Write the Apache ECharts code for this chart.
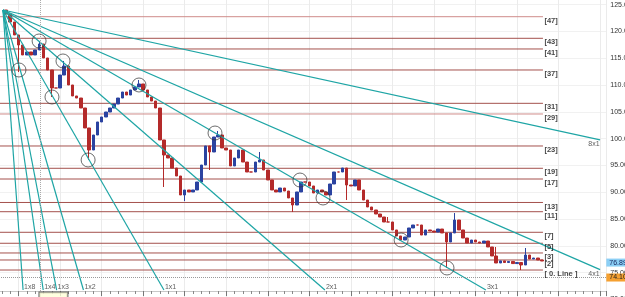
<!DOCTYPE html>
<html><head><meta charset="utf-8">
<script src="https://cdn.jsdelivr.net/npm/echarts@6/dist/echarts.min.js"></script>
<style>html,body{margin:0;padding:0;background:#fff}#c{width:625px;height:297px}</style>
</head><body><div id="c"></div>
<script>
// ---- price bars (trading-day index, closing price) ----
const days = [14,16,18,20,22,24,26,28,30,32,34,36,38,40,42,44,46,48,50,52,54,56,58,60,62,64,66,68,70,72,74,76,78,80,82,84,86,88,90,92,94,96,98,100,102,104,106,108,110,112,114,116,118,120,122,124,126,128,130,132,134,136,138,140,142,144,146,148,150,152,154,156,158,160,162,164,166,168,170,172,174,176,178,180,182,184,186,188,190,192,194,196,198,200,202,204,206,208,210,212,214,216,218,220,222,224,226,228,230,232,234,236,238,240,242,244,246,248,250,252,254,256,258,260,262,264,266,268,270,272];
const closes = [
123.26,121.77,119.35,117.48,115.62,116.18,115.62,116.55,117.67,115.06,
112.82,109.46,109.46,111.88,113.56,110.02,107.97,107.59,105.73,102.00,
97.89,100.69,103.12,104.05,104.98,105.73,106.47,107.59,108.71,108.15,
109.09,109.65,110.21,109.09,107.78,107.03,105.73,99.76,96.96,96.40,
94.53,93.04,89.50,90.43,90.06,90.43,91.92,95.09,98.64,97.52,
100.32,100.69,98.27,97.89,94.91,96.40,97.89,95.65,93.79,93.79,
95.65,96.03,94.16,92.30,90.43,90.06,90.80,90.24,88.94,87.63,
90.06,91.92,91.92,91.18,89.87,90.43,90.06,89.50,91.55,93.79,
93.79,94.53,91.36,91.18,92.30,90.43,88.56,87.26,86.70,85.95,
85.39,84.46,84.46,82.97,81.85,81.10,81.66,83.34,83.90,83.90,
82.03,82.97,82.78,82.59,83.15,82.41,80.73,82.41,84.83,82.97,
81.47,80.54,81.10,80.73,80.54,80.91,79.80,78.12,76.81,77.20,
76.90,77.10,76.70,76.90,76.44,78.30,77.56,77.74,77.37,77.18];
// wick extremes on spike days
const spikeDays   = [20,30,36,42,54,78,90,100,112,116,136,152,178,198,226,230,250,262,264];
const spikeValues = [112.44,118.23,107.78,114.50,96.03,110.95,90.99,88.35,94.16,101.44,97.52,86.32,88.56,85.39,75.88,86.13,79.80,75.50,79.61];

// ---- horizontal levels ----
const levelNames  = ['[47]','[43]','[41]','[37]','[31]','[29]','[23]','[19]','[17]','[13]','[11]','[7]','[5]','[3]','[2]','[ 0. Line ]'];
const levelValues = [122.76,118.73,116.74,112.82,106.60,104.61,98.64,94.48,92.48,88.10,86.38,82.54,80.49,78.68,77.37,75.50];
const levelStart = 0, levelEnd = 272.5;

// ---- Gann fan ----
const fanNames = ['8x1','4x1','3x1','2x1','1x1','1x2','1x3','1x4','1x8'];
const fanMultipliers = [1/8,1/4,1/3,1/2,1,2,3,4,8];
const fanOrigin = [12.5, 124.01];
const fanUnit = 0.674;      // price per day for 1x1
const fanEndDay = 300;
const fanFloor = 71.77;

// ---- touch circles ----
const circleDays   = [20.2,29.9,41.4,36.1,53.5,78.0,114.6,155.5,166.6,204.2,226.3];
const circlePrices = [112.82,118.23,114.50,107.78,96.03,110.02,101.06,92.29,88.94,81.10,75.88];

// ---- price tags ----
const lastPrice = 76.89;
const crossPrice = 74.10;
const crossDay = 30.3;

const FONT = 'Liberation Sans';
const candles = days.map((d,i)=>{
  const o = i===0 ? fanOrigin[1] : closes[i-1];
  const c = closes[i];
  let lo = Math.min(o,c), hi = Math.max(o,c);
  const k = spikeDays.indexOf(d);
  if (k>=0){ lo = Math.min(lo, spikeValues[k]); hi = Math.max(hi, spikeValues[k]); }
  return [d,o,c,lo,hi];
});

const series = [];
const lightLevels = ['[47]','[29]'];
levelNames.forEach((n,i)=>{
  series.push({type:'line', silent:true, symbol:'none', z:1,
    data:[[levelStart, levelValues[i]],[levelEnd, levelValues[i]]],
    lineStyle:{color: lightLevels.includes(n) ? '#cf8c8a' : '#a4514d', width:1}});
});
series.push({type:'scatter', silent:true, z:6, symbolSize:1,
  itemStyle:{color:'rgba(0,0,0,0)'},
  data: levelNames.map((n,i)=>[levelEnd, levelValues[i], n]),
  label:{show:true, formatter:p=>p.value[2], position:'right', distance:1, offset:[0,4],
    fontFamily:FONT, fontSize:7.5, fontWeight:'bold', color:'#111'}});

series.push({type:'candlestick', z:2, barWidth:3, silent:true,
  data:candles,
  itemStyle:{color:'#2b43a0', color0:'#b42a2a', borderColor:'#2b43a0', borderColor0:'#b42a2a', borderColorDoji:'#b42a2a', borderWidth:1},
  markLine:{silent:true, symbol:['none','none'], animation:false,
    data:[
      {yAxis:crossPrice, lineStyle:{type:'dotted', color:'#999', width:1},
       label:{show:true, position:'end', distance:0, formatter:crossPrice.toFixed(2), color:'#222',
         backgroundColor:'#f5a030', padding:[1,2,0,3], fontSize:7, fontFamily:FONT}},
      {yAxis:lastPrice, lineStyle:{color:'rgba(0,0,0,0)', width:0},
       label:{show:true, position:'end', distance:0, formatter:lastPrice.toFixed(2), color:'#1a2a60',
         backgroundColor:'#8ccff5', padding:[1,2,0,3], fontSize:7, fontFamily:FONT}},
      [{coord:[crossDay, 71.59]},{coord:[crossDay, 125.9]}]
    ],
    lineStyle:{type:'dotted', color:'#aaa', width:1},
    label:{show:false}
  }});

const fanLabelData = [];
fanNames.forEach((n,i)=>{
  const slope = fanUnit*fanMultipliers[i];
  let dE = fanOrigin[0] + (fanOrigin[1]-fanFloor)/slope, pE = fanFloor, bottom = true;
  if (dE > fanEndDay){ dE = fanEndDay; pE = fanOrigin[1] - slope*(fanEndDay-fanOrigin[0]); bottom = false; }
  series.push({type:'line', silent:true, symbol:'none', z:3,
    data:[fanOrigin.slice(), [dE,pE]],
    lineStyle:{color:'#1ea5a5', width:1.2}});
  fanLabelData.push({value:[dE,pE,n],
    label: bottom ? {position:'right', distance:0.5, offset:[0,-3]} : {position:'left', distance:0, offset:[0,4]}});
});
series.push({type:'scatter', silent:true, z:6, symbolSize:1, itemStyle:{color:'rgba(0,0,0,0)'},
  data:fanLabelData,
  label:{show:true, formatter:p=>p.value[2], fontFamily:FONT, fontSize:7, color:'#333'}});

series.push({type:'scatter', silent:true, z:5, symbol:'circle', symbolSize:14,
  data: circleDays.map((d,i)=>[d, circlePrices[i]]),
  itemStyle:{color:'rgba(0,0,0,0)', borderColor:'#333', borderWidth:0.9}});

// crosshair date box at the bottom
series.push({type:'scatter', silent:true, z:7, symbolSize:1, itemStyle:{color:'rgba(0,0,0,0)'},
  data:[[crossDay, 71.59]],
  label:{show:true, formatter:' ', position:[0,2], width:28, height:10,
    backgroundColor:'#ffffd8', borderColor:'#444', borderWidth:1, fontSize:7}});

const chart = echarts.init(document.getElementById('c'), null, {renderer:'canvas', width:625, height:297});
chart.setOption({
  animation:false,
  backgroundColor:'#ffffff',
  grid:{left:-23, right:18.7, top:-22.1, bottom:-2.5, containLabel:false, outerBoundsMode:'none'},
  xAxis:{type:'value', min:0, max:303, interval:20, offset:-8.5,
    axisLine:{show:true, lineStyle:{color:'#c8c8c8'}},
    axisTick:{show:true, length:5, lineStyle:{color:'#777'}},
    minorTick:{show:true, splitNumber:5, length:3, lineStyle:{color:'#888'}},
    axisLabel:{show:false},
    splitLine:{show:true, lineStyle:{color:'#ebebeb', width:1}},
    minorSplitLine:{show:false}},
  yAxis:{type:'value', position:'right', min:70, max:130, interval:5,
    axisLine:{show:true, lineStyle:{color:'#666'}},
    axisTick:{show:true, length:4, lineStyle:{color:'#666'}},
    minorTick:{show:true, splitNumber:5, length:2, lineStyle:{color:'#888'}},
    axisLabel:{show:true, margin:4, fontSize:7, color:'#333', fontFamily:FONT, formatter:v=>v.toFixed(2)},
    splitLine:{show:true, lineStyle:{color:'#f1f1f1'}},
    minorSplitLine:{show:false}},
  series:series
});
</script></body></html>
